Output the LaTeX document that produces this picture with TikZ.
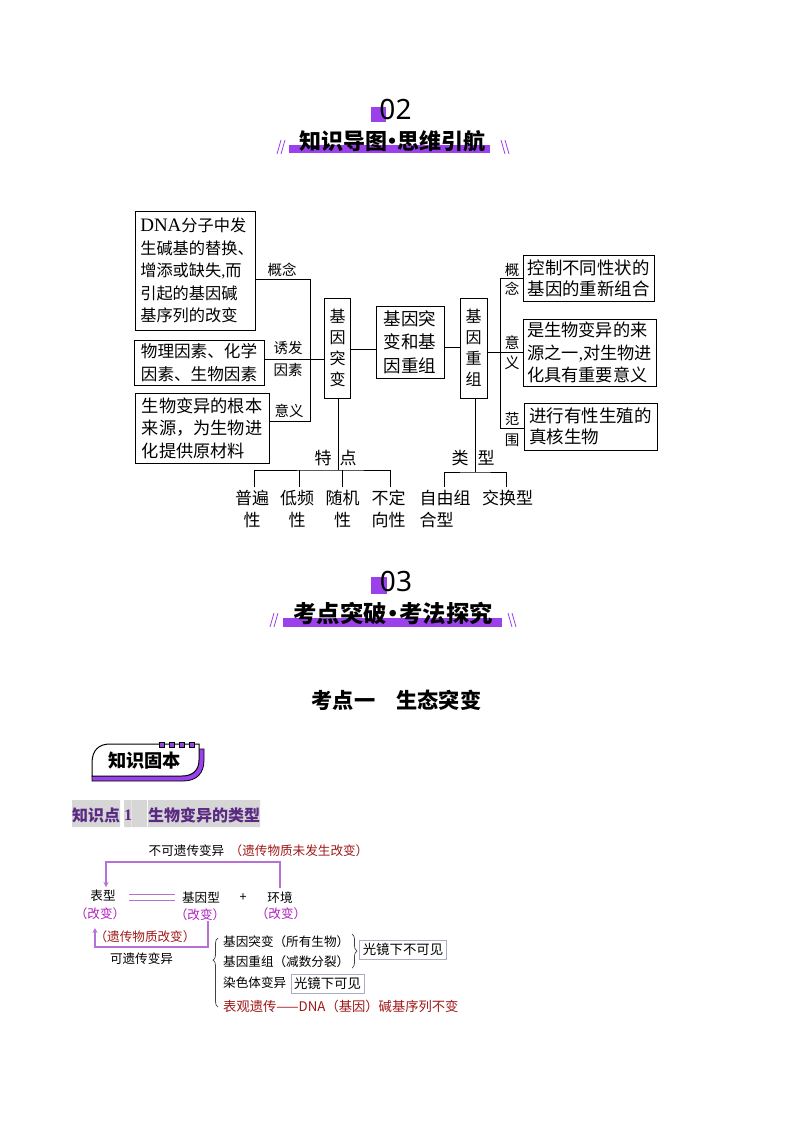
\documentclass[tikz,border=0pt]{standalone}
\usepackage{fontspec}
\setmainfont{Noto Sans CJK SC}
\newfontfamily\lsf{Liberation Serif}
\newfontfamily\nsf{Noto Sans}
\usetikzlibrary{decorations.pathreplacing,arrows.meta}
\definecolor{hpurple}{HTML}{9B41EC}
\definecolor{lpurple}{HTML}{B670D8}
\definecolor{mag}{HTML}{B020C0}
\definecolor{dred}{HTML}{A01818}
\definecolor{dpurple}{HTML}{5A2A82}
\definecolor{bandgray}{HTML}{D6D6D6}
\definecolor{tagbox}{HTML}{A8B0C0}
\newcommand{\fs}[2]{\fontsize{#1}{#2}\selectfont}
\tikzset{
  box/.style={draw=black,line width=0.9pt,fill=white,inner sep=0pt,align=left},
  vbox/.style={box,align=center,font=\fs{16}{21}},
  lab/.style={inner sep=0pt,align=center,font=\fs{14.5}{20}},
  big/.style={inner sep=0pt,align=center,font=\fs{17}{22}},
  wire/.style={draw=black,line width=0.9pt},
  pline/.style={draw=lpurple,line width=1.2pt},
  parrow/.style={pline,-{Stealth[length=5pt,width=5pt]}},
  slash/.style={draw=hpurple,line width=0.8pt},
  small/.style={inner sep=0pt,font=\fs{12.6}{16}},
  glass/.style={draw=tagbox,line width=0.7pt,fill=white,inner sep=0pt,font=\fs{13.4}{16}},
  bracew/.style={draw=black!75,line width=0.7pt,decorate},
}
\begin{document}
\begin{tikzpicture}[x=1pt,y=-1pt]
\useasboundingbox (0,0) rectangle (794,1123);
\fill[white] (0,0) rectangle (794,1123);

% header 02
\fill[hpurple] (371,107) rectangle (386,122);
\node[inner sep=0pt,font=\nsf\fs{28}{30}] (h02) at (395.5,109) {02};
\fill[hpurple] (289,145) rectangle (490,153);
\node[inner sep=0pt,font=\bfseries\fs{22}{24}] (t02) at (392,141) {知识导图\hspace{-6pt}·\hspace{-6pt}思维引航};
\draw[slash] (277,154)--(281,140) (281,154)--(285,140) (501,140)--(505,154) (505,140)--(509,154);

% central diagram boxes
\node[box,minimum width=120pt,minimum height=119pt,font=\fs{16.2}{22.6}] (b1) at (195,270.5)
  {\hspace*{4pt}{\lsf\fs{19}{22.6}DNA}分子中发\\\hspace*{4pt}生碱基的替换、\\\hspace*{4pt}增添或缺失{\lsf ,}而\\\hspace*{4pt}引起的基因碱\\\hspace*{4pt}基序列的改变};
\node[box,minimum width=130pt,minimum height=45pt,font=\fs{16.6}{23}] (b2) at (199,362.5)
  {物理因素、化学\\因素、生物因素};
\node[box,minimum width=134pt,minimum height=70pt,font=\fs{17.2}{22.6}] (b3) at (202,428)
  {生物变异的根本\\来源，为生物进\\化提供原材料};
\node[vbox,minimum width=26.5pt,minimum height=100pt] (tb) at (337.5,348) {基\\因\\突\\变};
\node[box,align=center,minimum width=68pt,minimum height=72pt,font=\fs{17.5}{23.5}] (mid) at (410,342) {基因突\\变和基\\因重组};
\node[vbox,minimum width=27pt,minimum height=100pt] (cz) at (473.5,348) {基\\因\\重\\组};
\node[box,minimum width=131pt,minimum height=46pt,font=\fs{17.4}{21}] (r1) at (588.5,278) {控制不同性状的\\基因的重新组合};
\node[box,minimum width=133pt,minimum height=67pt,font=\fs{17.2}{22.6}] (r2) at (589.5,352.5) {是生物变异的来\\源之一{\lsf ,}对生物进\\化具有重要意义};
\node[box,minimum width=133pt,minimum height=47pt,font=\fs{17.5}{21}] (r3) at (590.5,426.5) {进行有性生殖的\\真核生物};

% junctions
\coordinate (jl) at (310,359);
\coordinate (jr) at (500,352);
\coordinate (jt) at (338,470);
\coordinate (jz) at (475,472);

% left connectors
\draw[wire] (b1.east |- 0,279) -| (jl);
\draw[wire] (jl) |- (b3.east |- 0,421);
\draw[wire] (b2.east |- jl) -- (tb.west |- jl);
\draw[wire] (tb.east |- 0,349) -- (mid.west |- 0,349);
\draw[wire] (mid.east |- 0,347) -- (cz.west |- 0,347);
\draw[wire] (cz.east |- jr) -- (r2.west |- jr);
\draw[wire] (r1.west |- 0,278) -| (jr);
\draw[wire] (jr) |- (r3.west |- 0,428);

% bottom trees
\coordinate (a1) at (254,487);\coordinate (a2) at (299,487);\coordinate (a3) at (342,487);\coordinate (a4) at (390,487);
\draw[wire] (tb.south -| jt) -- (jt);
\draw[wire] (a1) |- (jt) -| (a4);
\draw[wire] (a2) -- (a2 |- jt);
\draw[wire] (a3) -- (a3 |- jt);
\coordinate (c1) at (444,487);\coordinate (c2) at (506,487);
\draw[wire] (cz.south -| jz) -- (jz);
\draw[wire] (c1) |- (jz) -| (c2);

% labels
\node[lab] (l1) at (282,270) {概念};
\node[lab,font=\fs{14.5}{22}] (l2) at (288,359) {诱发\\因素};
\node[lab] (l3) at (289,410.5) {意义};
\node[big] (te) at (323,458) {特};
\node[big] (di) at (348,458) {点};
\node[big] (s1) at (252,509) {普遍\\性};
\node[big] (s2) at (297,509) {低频\\性};
\node[big] (s3) at (342.5,509) {随机\\性};
\node[big] (s4) at (388.5,509) {不定\\向性};
\node[big,align=left] (s5) at (445,509) {自由组\\合型\hspace*{17pt}};
\node[big] (s6) at (507.5,498) {交换型};
\node[big] (le) at (460,458) {类};
\node[big] (xi) at (486,458) {型};
\node[lab,font=\fs{14.5}{19.5}] (g1) at (512,279.5) {概\\念};
\node[lab,font=\fs{15}{20}] (g2) at (512,353) {意\\义};
\node[lab,font=\fs{14.5}{21}] (g3) at (512,429.5) {范\\围};

% header 03
\fill[hpurple] (371,577) rectangle (387,594);
\node[inner sep=0pt,font=\nsf\fs{28}{30}] (h03) at (396,581) {03};
\fill[hpurple] (283,618) rectangle (502,627);
\node[inner sep=0pt,font=\bfseries\fs{23.4}{24}] (t03) at (393,613) {考点突破\hspace{-5.5pt}·\hspace{-5.5pt}考法探究};
\draw[slash] (270,627)--(274,613) (274,627)--(278,613) (508,613)--(512,627) (512,613)--(516,627);

% section title
\node[inner sep=0pt,font=\bfseries\fs{21.2}{24}] (sec) at (396.5,700) {考点一\hspace{21.2pt}生态突变};

% tag
\fill[hpurple,draw=black,line width=0.8pt] (92,776) -- (92,781) -- (183,781) .. controls (197,781) and (204,773) .. (204,760) -- (204,749) -- (198,749) -- (190,770) -- cycle;
\draw[fill=white,draw=black,line width=1pt] (92,776) -- (92,763) .. controls (92,750) and (99,744) .. (110,744) -- (199,744) -- (199,760) .. controls (199,770) and (193,776) .. (182,776) -- cycle;
\foreach \xx in {162,172,182,192}{\filldraw[fill=hpurple,draw=black,line width=0.6pt] (\xx-2.5,742.5) rectangle (\xx+2.5,747.5);}
\node[inner sep=0pt,font=\bfseries\fs{18.2}{20}] (tag) at (144.5,761) {知识固本};

% knowledge band
\fill[bandgray] (72,800) rectangle (120,827) (124,800) rectangle (131.5,827) (132,800) rectangle (147,827) (148,800) rectangle (260,827);
\node[inner sep=0pt,text=dpurple,font=\bfseries\fs{16}{18}] (k1) at (96,815) {知识点};
\node[inner sep=0pt,text=dpurple,font=\lsf\bfseries\fs{16}{18}] (k2) at (128,815) {1};
\node[inner sep=0pt,text=dpurple,font=\bfseries\fs{16}{18}] (k3) at (204,815) {生物变异的类型};

% bottom diagram
\node[small] (n1) at (186.5,851) {不可遗传变异};
\node[small,text=dred] (n2) at (299,851) {（遗传物质未发生改变）};
\node[small] (bx) at (103,896) {表型};
\node[small,text=mag] (bxg) at (100,914) {（改变）};
\node[small] (jy) at (201,898) {基因型};
\node[small,text=mag] (jyg) at (200,915) {（改变）};
\node[small] (plus) at (243,898) {+};
\node[small] (hj) at (280,898) {环境};
\node[small,text=mag] (hjg) at (281,914) {（改变）};
\node[small,text=dred] (n3) at (145,937) {（遗传物质改变）};
\node[small] (n4) at (141.5,959) {可遗传变异};
\coordinate (p1) at (106,862);
\coordinate (p2) at (280,862);
\draw[parrow] (hj.north |- 0,888) -- (p2) -- (p1) -- (p1 |- 0,887);
\draw[draw=lpurple,line width=0.8pt] (129,894.5) -- (175,894.5) (129,900) -- (175,900);
\coordinate (q1) at (208,947);
\coordinate (q2) at (95,947);
\draw[parrow] (q1 |- jyg.south) -- (q1) -- (q2) -- (95,928);
\node[small,anchor=west] (m1) at (223,942) {基因突变（所有生物）};
\node[small,anchor=west] (m2) at (223,962) {基因重组（减数分裂）};
\node[small,anchor=west] (m3) at (223,983) {染色体变异};
\node[small,anchor=west,text=dred,font=\fs{13.3}{16}] (m4) at (223,1006) {表观遗传——DNA（基因）碱基序列不变};
\node[glass,minimum width=87pt,minimum height=19pt] (g5) at (403,949.5) {光镜下不可见};
\node[glass,minimum width=73pt,minimum height=19pt] (g6) at (327.5,983.5) {光镜下可见};
\draw[bracew,decoration={brace,amplitude=5pt,aspect=0.68}] (218,1007) -- (218,938);
\draw[bracew,decoration={brace,amplitude=5pt}] (352,934) -- (352,968);
\end{tikzpicture}
\end{document}
